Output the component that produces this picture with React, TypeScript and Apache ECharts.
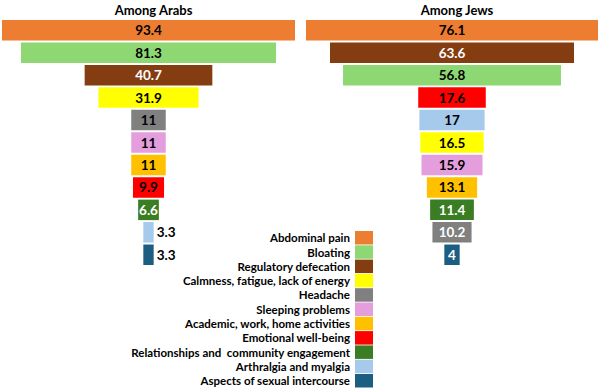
import React, { useEffect, useRef } from 'react';
import * as echarts from 'echarts';

const categories = [
  'Abdominal pain',
  'Bloating',
  'Regulatory defecation',
  'Calmness, fatigue, lack of energy',
  'Headache',
  'Sleeping problems',
  'Academic, work, home activities',
  'Emotional well-being',
  'Relationships and  community engagement',
  'Arthralgia and myalgia',
  'Aspects of sexual intercourse',
];

const arabsValues = [93.4, 81.3, 40.7, 31.9, 11, 11, 11, 9.9, 6.6, 3.3, 3.3];
const jewsValues = [76.1, 56.8, 63.6, 16.5, 10.2, 15.9, 13.1, 17.6, 11.4, 17, 4];

const panelTitles = ['Among Arabs', 'Among Jews'];

const colors = [
  '#ED7D31', '#8ED873', '#843C11', '#FFFF00', '#808080', '#E59EDD',
  '#FFC000', '#FF0000', '#3B7D23', '#A6CAEC', '#1B5E82',
];

const FONT = 'Lato';

const panels = [
  { title: panelTitles[0], values: arabsValues, grid: { left: 2, top: 19, width: 293, height: 247 }, white: [2, 8] },
  { title: panelTitles[1], values: jewsValues, grid: { left: 306, top: 19, width: 292, height: 247 }, white: [2, 8, 4, 10] },
];

export default function App() {
  const ref = useRef<HTMLDivElement>(null);
  useEffect(() => {
    const chart = echarts.init(ref.current!, null, { renderer: 'svg' });
    const grids: any[] = [];
    const xAxes: any[] = [];
    const yAxes: any[] = [];
    const series: any[] = [];
    const titles: any[] = [];
    panels.forEach((p, k) => {
      const max = Math.max(...p.values);
      const order = p.values.map((_, i) => i).sort((a, b) => p.values[b] - p.values[a]);
      const rankOf: number[] = [];
      order.forEach((ci, r) => (rankOf[ci] = r));
      grids.push({ ...p.grid, containLabel: false });
      xAxes.push({ type: 'value', gridIndex: k, min: 0, max, show: false });
      yAxes.push({ type: 'category', gridIndex: k, inverse: true, show: false, data: order.map((ci) => categories[ci]) });
      titles.push({
        text: p.title,
        left: p.grid.left + p.grid.width / 2,
        textAlign: 'center',
        top: -2,
        textStyle: { fontFamily: FONT, fontWeight: 'bold', fontSize: 13, color: '#000' },
      });
      series.push({
        type: 'bar',
        name: '_offset' + k,
        stack: 's' + k,
        xAxisIndex: k,
        yAxisIndex: k,
        barWidth: 20.5,
        silent: true,
        itemStyle: { color: 'transparent' },
        data: order.map((ci) => (max - p.values[ci]) / 2),
      });
      categories.forEach((name, ci) => {
        const v = p.values[ci];
        const px = (v / max) * p.grid.width;
        const txt = String(v);
        const inside = px > txt.length * 5.5 + 2;
        const data: any[] = new Array(categories.length).fill('-');
        data[rankOf[ci]] = v;
        series.push({
          type: 'bar',
          name,
          stack: 's' + k,
          xAxisIndex: k,
          yAxisIndex: k,
          barWidth: 20.5,
          itemStyle: { color: colors[ci] },
          label: {
            show: true,
            position: inside ? 'inside' : 'right',
            distance: 3,
            fontFamily: FONT,
            fontWeight: 'bold',
            fontSize: 13.5,
            color: inside && p.white.includes(ci) ? '#fff' : '#000',
          },
          data,
        });
      });
    });
    chart.setOption({
      animation: false,
      title: titles,
      grid: grids,
      xAxis: xAxes,
      yAxis: yAxes,
      series,
      legend: {
        data: categories,
        orient: 'vertical',
        align: 'right',
        right: 227,
        top: 231,
        padding: 0,
        icon: 'rect',
        itemWidth: 18,
        itemHeight: 13.5,
        itemGap: 0.8,
        selectedMode: false,
        textStyle: { fontFamily: FONT, fontWeight: 'bold', fontSize: 11.5, color: '#000', lineHeight: 13.5 },
      },
    });
    return () => chart.dispose();
  }, []);
  return <div ref={ref} style={{ position: 'absolute', left: 0, top: 0, width: 600, height: 392 }} />;
}
